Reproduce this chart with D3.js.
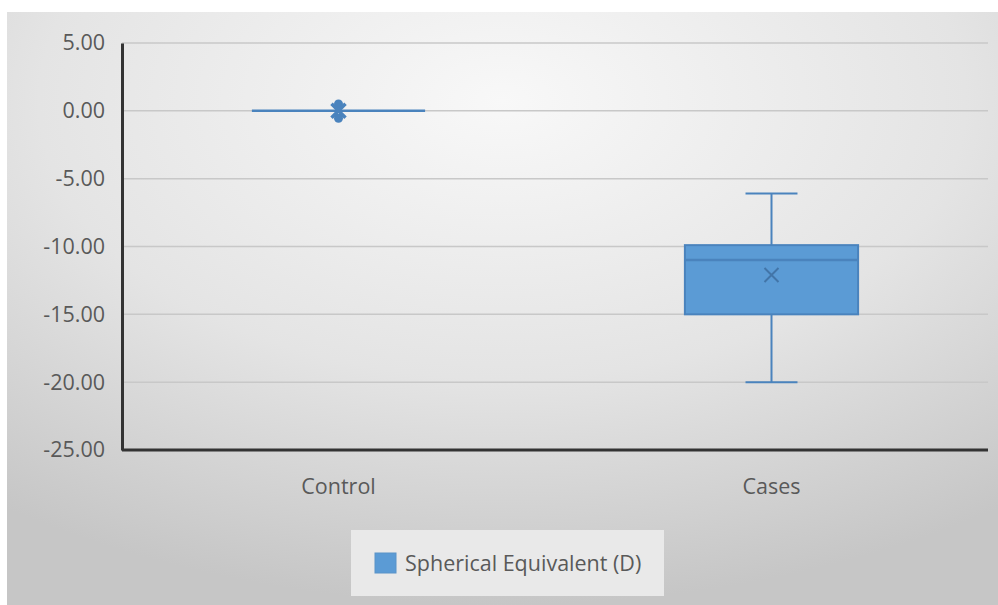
<!DOCTYPE html>
<html><head><meta charset="utf-8">
<script src="https://cdn.jsdelivr.net/npm/d3@7/dist/d3.min.js"></script>
<style>body{margin:0;background:#fff;} svg{display:block;} svg text{font-family:"Open Sans","Noto Sans",sans-serif !important;}</style>
</head><body>
<script>
const categories = ["Control", "Cases"];
const minValues = [0, -20];
const q1Values = [0, -15];
const medianValues = [0, -11];
const q3Values = [0, -9.9];
const maxValues = [0, -6.1];
const meanValues = [0, -12.1];
const outliers = [[0.5, -0.55], []];
const yTicks = [5, 0, -5, -10, -15, -20, -25];
const seriesName = "Spherical Equivalent (D)";

const FONT = '"Open Sans","Noto Sans",sans-serif';
const W = 998, H = 605;
const svg = d3.select("body").append("svg").attr("width", W).attr("height", H);
const defs = svg.append("defs");
const g1 = defs.append("radialGradient").attr("id","bg").attr("cx","50%").attr("cy","15%").attr("r","85%")
  .attr("fx","50%").attr("fy","15%");
g1.append("stop").attr("offset","0%").attr("stop-color","#f8f8f8");
g1.append("stop").attr("offset","55%").attr("stop-color","#e4e4e4");
g1.append("stop").attr("offset","100%").attr("stop-color","#c6c6c6");
svg.append("rect").attr("x",7).attr("y",12).attr("width",W-7).attr("height",H-12).attr("fill","url(#bg)");

const margin = {left:122, right:988, top:43, bottom:450};
const y = d3.scaleLinear().domain([-25, 5]).range([margin.bottom, margin.top]);
const x = d3.scaleBand().domain(categories).range([margin.left, margin.right]).paddingInner(0.6).paddingOuter(0.3);
const fmt = d => d3.format(".2f")(d).replace("\u2212", "-");

svg.append("g").selectAll("line").data(yTicks.filter(d=>d>-25)).join("line")
  .attr("x1", margin.left).attr("x2", margin.right)
  .attr("y1", d=>y(d)).attr("y2", d=>y(d))
  .attr("stroke","#c8c8c8").attr("stroke-width",1.5);

const yAxis = svg.append("g").attr("transform",`translate(${margin.left},0)`)
  .call(d3.axisLeft(y).tickValues(yTicks).tickFormat(fmt).tickSize(0).tickPadding(17))
  .attr("font-family", FONT);
yAxis.select(".domain").attr("stroke","#333").attr("stroke-width",3);
yAxis.selectAll("text").attr("fill","#595959").attr("font-size","21.5px");

const xAxis = svg.append("g").attr("transform",`translate(0,${margin.bottom})`)
  .call(d3.axisBottom(x).tickSize(0).tickPadding(29))
  .attr("font-family", FONT);
xAxis.select(".domain").attr("d",`M${margin.left},0H${margin.right}`).attr("stroke","#333").attr("stroke-width",3);
xAxis.selectAll("text").attr("fill","#595959").attr("font-size","21.5px");

const boxColor = "#5b9bd5", lineColor = "#4a83bd";
const bw = x.bandwidth();
const capW = bw * 0.3;
categories.forEach((c,i) => {
  const cx = x(c) + bw/2;
  const gg = svg.append("g");
  gg.append("line").attr("x1",cx).attr("x2",cx).attr("y1",y(maxValues[i])).attr("y2",y(q3Values[i])).attr("stroke",lineColor).attr("stroke-width",2);
  gg.append("line").attr("x1",cx).attr("x2",cx).attr("y1",y(q1Values[i])).attr("y2",y(minValues[i])).attr("stroke",lineColor).attr("stroke-width",2);
  if (maxValues[i] !== q3Values[i])
    gg.append("line").attr("x1",cx-capW/2).attr("x2",cx+capW/2).attr("y1",y(maxValues[i])).attr("y2",y(maxValues[i])).attr("stroke",lineColor).attr("stroke-width",2);
  if (minValues[i] !== q1Values[i])
    gg.append("line").attr("x1",cx-capW/2).attr("x2",cx+capW/2).attr("y1",y(minValues[i])).attr("y2",y(minValues[i])).attr("stroke",lineColor).attr("stroke-width",2);
  gg.append("rect").attr("x",x(c)).attr("width",bw)
    .attr("y",y(q3Values[i])).attr("height",Math.max(0,y(q1Values[i])-y(q3Values[i])))
    .attr("fill",boxColor).attr("stroke",lineColor).attr("stroke-width",2);
  gg.append("line").attr("x1",x(c)).attr("x2",x(c)+bw).attr("y1",y(medianValues[i])).attr("y2",y(medianValues[i])).attr("stroke",lineColor).attr("stroke-width",2.5);
  outliers[i].forEach(v => {
    gg.append("circle").attr("cx",cx).attr("cy",y(v)).attr("r",4.5).attr("fill",lineColor);
  });
  const m = y(meanValues[i]), s = 7;
  gg.append("path").attr("d",`M${cx-s},${m-s}L${cx+s},${m+s}M${cx+s},${m-s}L${cx-s},${m+s}`)
    .attr("stroke", i===0 ? lineColor : "#4275a8").attr("stroke-width", i===0 ? 3.5 : 2).attr("fill","none");
});

const lg = svg.append("g");
lg.append("rect").attr("x",351).attr("y",530).attr("width",313).attr("height",66).attr("fill","#e9e9e9");
lg.append("rect").attr("x",375).attr("y",553).attr("width",21).attr("height",20).attr("fill",boxColor).attr("stroke","#5b93c8").attr("stroke-width",1);
lg.append("text").attr("x",405).attr("y",571).attr("fill","#595959").attr("font-size","21.5px").attr("font-family",FONT).text(seriesName);
</script>
</body></html>
